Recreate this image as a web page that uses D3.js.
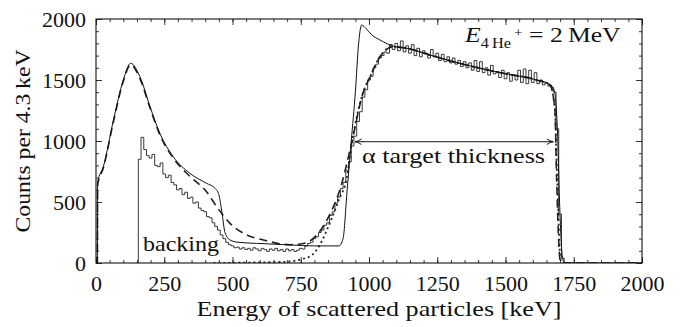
<!DOCTYPE html>
<html>
<head>
<meta charset="utf-8">
<script src="https://cdn.jsdelivr.net/npm/d3@7"></script>
</head>
<body style="margin:0">
<script>
/**
 * DATA
 * */
const xTicks = [0, 250, 500, 750, 1000, 1250, 1500, 1750, 2000];
const yTicks = [0, 500, 1000, 1500, 2000];

// thin solid line: simulation [energy keV, counts]
const simSolid = [
  [0, 0], [5, 0], [6, 660], [27, 790], [64, 1172], [100, 1500], [127, 1637],
  [161, 1527], [198, 1281], [234, 1063], [283, 871], [344, 735], [405, 653],
  [436, 612], [450, 560], [460, 434], [473, 246], [491, 189], [520, 170],
  [588, 161], [711, 148], [800, 140], [890, 140], [905, 200], [920, 600],
  [935, 1000], [950, 1400], [962, 1800], [973, 1950], [990, 1920], [1010, 1870],
  [1040, 1828], [1095, 1773], [1138, 1760], [1223, 1705], [1309, 1650],
  [1407, 1596], [1492, 1555], [1614, 1500], [1663, 1462], [1678, 1420],
  [1690, 1100], [1698, 500], [1708, 60], [1716, 0], [2000, 0]
];

// dashed line: fit
const fitDashed = [
  [0, 0], [5, 0], [6, 640], [27, 780], [64, 1160], [100, 1490], [127, 1625],
  [161, 1510], [198, 1270], [234, 1050], [283, 860], [344, 710], [405, 584],
  [442, 462], [491, 325], [552, 230], [613, 189], [711, 150], [760, 160],
  [800, 210], [850, 370], [900, 650], [936, 981], [978, 1393], [1004, 1527],
  [1040, 1691], [1088, 1773], [1138, 1760], [1223, 1705], [1309, 1650],
  [1407, 1596], [1492, 1555], [1614, 1500], [1663, 1459], [1681, 1254],
  [1687, 707], [1700, 25], [1710, 0], [2000, 0]
];

// dotted line
const fitDotted = [
  [430, 0], [600, 5], [700, 10], [720, 15], [750, 30], [791, 65], [820, 150],
  [857, 330], [890, 520], [919, 700], [937, 980], [978, 1393], [1004, 1527],
  [1040, 1691], [1088, 1773], [1138, 1760], [1223, 1705], [1309, 1650],
  [1407, 1596], [1492, 1555], [1614, 1500], [1663, 1459], [1681, 1254],
  [1689, 707], [1702, 25], [1712, 0]
];

// measured spectrum, 10 keV bins starting at 155 keV
const measStart = 155;
const measStep = 10;
const measCounts = [
  850, 1030, 930, 880, 860, 890, 800, 790, 820, 730,
  700, 720, 660, 640, 600, 610, 560, 580, 530, 540,
  490, 500, 450, 430, 420, 380, 370, 330, 300, 270,
  230, 200, 170, 150, 140, 125, 130, 115, 125, 110,
  120, 105, 125, 115, 100, 120, 110, 95, 115, 105,
  120, 100, 110, 95, 115, 100, 110, 95, 105, 120,
  115, 140, 160, 170, 200, 215, 250, 270, 310, 330,
  390, 420, 490, 540, 610, 660, 760, 830, 960, 1040,
  1160, 1240, 1360, 1420, 1500, 1530, 1600, 1630, 1680, 1700,
  1730, 1720, 1790, 1750, 1800, 1740, 1820, 1730, 1780, 1720,
  1790, 1700, 1760, 1690, 1740, 1720, 1680, 1750, 1690, 1720,
  1660, 1710, 1650, 1690, 1640, 1680, 1630, 1660, 1610, 1650,
  1600, 1640, 1580, 1660, 1570, 1650, 1560, 1600, 1540, 1620,
  1550, 1570, 1520, 1580, 1510, 1560, 1490, 1540, 1500, 1580,
  1480, 1590, 1470, 1580, 1480, 1560, 1470, 1500, 1460, 1480,
  1450, 1440, 1400, 1100, 400, 40, 0
];

const arrowSpan = [949, 1675];
const arrowLevel = 994;

/**
 * LAYOUT
 * */
const width = 683,
  height = 327,
  margin = { top: 19, bottom: 64, left: 96, right: 41 },
  serif = '"Liberation Serif"',
  fontSize = 22;

const svg = d3
  .select("body")
  .append("svg")
  .attr("width", width)
  .attr("height", height);

const xScale = d3.scaleLinear().domain([0, 2000]).range([margin.left, width - margin.right]);
const yScale = d3.scaleLinear().domain([0, 2000]).range([height - margin.bottom, margin.top]);

svg.append("clipPath").attr("id", "clip")
  .append("rect")
  .attr("x", margin.left).attr("y", margin.top)
  .attr("width", width - margin.left - margin.right)
  .attr("height", height - margin.top - margin.bottom);

const plot = svg.append("g").attr("clip-path", "url(#clip)");

const line = d3.line()
  .x(d => xScale(d[0]))
  .y(d => yScale(d[1]));

// measured histogram as steps
const measured = measCounts.map((c, i) => [measStart + i * measStep, c]);
measured.unshift([measStart, 0]);
plot.append("path")
  .datum(measured)
  .attr("fill", "none")
  .attr("stroke", "#222")
  .attr("stroke-width", 0.9)
  .attr("d", line.curve(d3.curveStepAfter));

line.curve(d3.curveMonotoneX);

plot.append("path")
  .datum(fitDotted)
  .attr("fill", "none")
  .attr("stroke", "#222")
  .attr("stroke-width", 1.8)
  .attr("stroke-dasharray", "2,3")
  .attr("d", line);

plot.append("path")
  .datum(fitDashed)
  .attr("fill", "none")
  .attr("stroke", "#222")
  .attr("stroke-width", 1.6)
  .attr("stroke-dasharray", "8,5")
  .attr("d", line);

plot.append("path")
  .datum(simSolid)
  .attr("fill", "none")
  .attr("stroke", "#111")
  .attr("stroke-width", 1)
  .attr("d", line);

// AXES, ticks inward on all four sides
const minorX = d3.range(0, 2001, 50);
const minorY = d3.range(0, 2001, 100);

function ticks(g, axis) {
  g.call(axis).call(g => g.select(".domain").remove());
}

svg.append("g")
  .attr("transform", `translate(0,${height - margin.bottom})`)
  .call(ticks, d3.axisBottom(xScale).tickValues(xTicks).tickSize(-6).tickPadding(12).tickFormat(d3.format("d")));
svg.append("g")
  .attr("transform", `translate(0,${height - margin.bottom})`)
  .call(ticks, d3.axisBottom(xScale).tickValues(minorX).tickSize(-3).tickFormat(""));
svg.append("g")
  .attr("transform", `translate(0,${margin.top})`)
  .call(ticks, d3.axisTop(xScale).tickValues(xTicks).tickSize(-6).tickFormat(""));
svg.append("g")
  .attr("transform", `translate(0,${margin.top})`)
  .call(ticks, d3.axisTop(xScale).tickValues(minorX).tickSize(-3).tickFormat(""));

svg.append("g")
  .attr("transform", `translate(${margin.left},0)`)
  .call(ticks, d3.axisLeft(yScale).tickValues(yTicks).tickSize(-6).tickPadding(10).tickFormat(d3.format("d")));
svg.append("g")
  .attr("transform", `translate(${margin.left},0)`)
  .call(ticks, d3.axisLeft(yScale).tickValues(minorY).tickSize(-3).tickFormat(""));
svg.append("g")
  .attr("transform", `translate(${width - margin.right},0)`)
  .call(ticks, d3.axisRight(yScale).tickValues(yTicks).tickSize(-6).tickFormat(""));
svg.append("g")
  .attr("transform", `translate(${width - margin.right},0)`)
  .call(ticks, d3.axisRight(yScale).tickValues(minorY).tickSize(-3).tickFormat(""));

svg.selectAll(".tick line").attr("stroke", "#222").attr("stroke-width", 0.9);
svg.selectAll(".tick text")
  .attr("fill", "#111")
  .attr("font-size", fontSize)
  .style("font-family", serif);

// frame
svg.append("rect")
  .attr("x", margin.left).attr("y", margin.top)
  .attr("width", width - margin.left - margin.right)
  .attr("height", height - margin.top - margin.bottom)
  .attr("fill", "none")
  .attr("stroke", "#111")
  .attr("stroke-width", 1.1);

// the original uses a wider serif, so long labels get stretched to its widths
function label(sel, w) {
  const t = sel.append("text")
    .attr("font-size", fontSize)
    .attr("fill", "#111")
    .style("font-family", serif);
  if (w) t.attr("textLength", w).attr("lengthAdjust", "spacingAndGlyphs");
  return t;
}

// axis labels
label(svg, 365)
  .attr("x", 379)
  .attr("y", 316)
  .attr("text-anchor", "middle")
  .text("Energy of scattered particles [keV]");

label(svg, 183)
  .attr("transform", `translate(30,141) rotate(-90)`)
  .attr("text-anchor", "middle")
  .text("Counts per 4.3\u2009keV");

// arrow for target thickness
const defs = svg.append("defs");
defs.append("marker")
  .attr("id", "head")
  .attr("viewBox", "0 0 10 10")
  .attr("refX", 9).attr("refY", 5)
  .attr("markerWidth", 8).attr("markerHeight", 8)
  .attr("markerUnits", "userSpaceOnUse")
  .attr("orient", "auto-start-reverse")
  .append("path")
  .attr("d", "M1,1.5 Q5,4.5 9,5 Q5,5.5 1,8.5")
  .attr("fill", "none")
  .attr("stroke", "#111")
  .attr("stroke-width", 1.2);

svg.append("line")
  .attr("x1", xScale(arrowSpan[0])).attr("x2", xScale(arrowSpan[1]))
  .attr("y1", yScale(arrowLevel)).attr("y2", yScale(arrowLevel))
  .attr("stroke", "#111")
  .attr("stroke-width", 1)
  .attr("marker-start", "url(#head)")
  .attr("marker-end", "url(#head)");

label(svg, 183)
  .attr("x", 362)
  .attr("y", 163)
  .text("\u03b1 target thickness");

label(svg, 76)
  .attr("x", 143)
  .attr("y", 251)
  .text("backing");

// energy label, stretched horizontally to the original width
const eX = 465;
const eLabel = label(svg)
  .attr("x", eX)
  .attr("y", 42);
eLabel.append("tspan").style("font-style", "italic").text("E");
eLabel.append("tspan").attr("font-size", 14).attr("dy", 6).text("4\u2009He");
eLabel.append("tspan").attr("font-size", 13).attr("dy", -11).text("\u2009+");
eLabel.append("tspan").attr("dy", 5).text("  =  2\u2009MeV");
const eW = eLabel.node().getBBox().width;
const k = eW > 0 ? 157 / eW : 1;
eLabel.attr("transform", `translate(${eX},0) scale(${k},1) translate(${-eX},0)`);
</script>
</body>
</html>
